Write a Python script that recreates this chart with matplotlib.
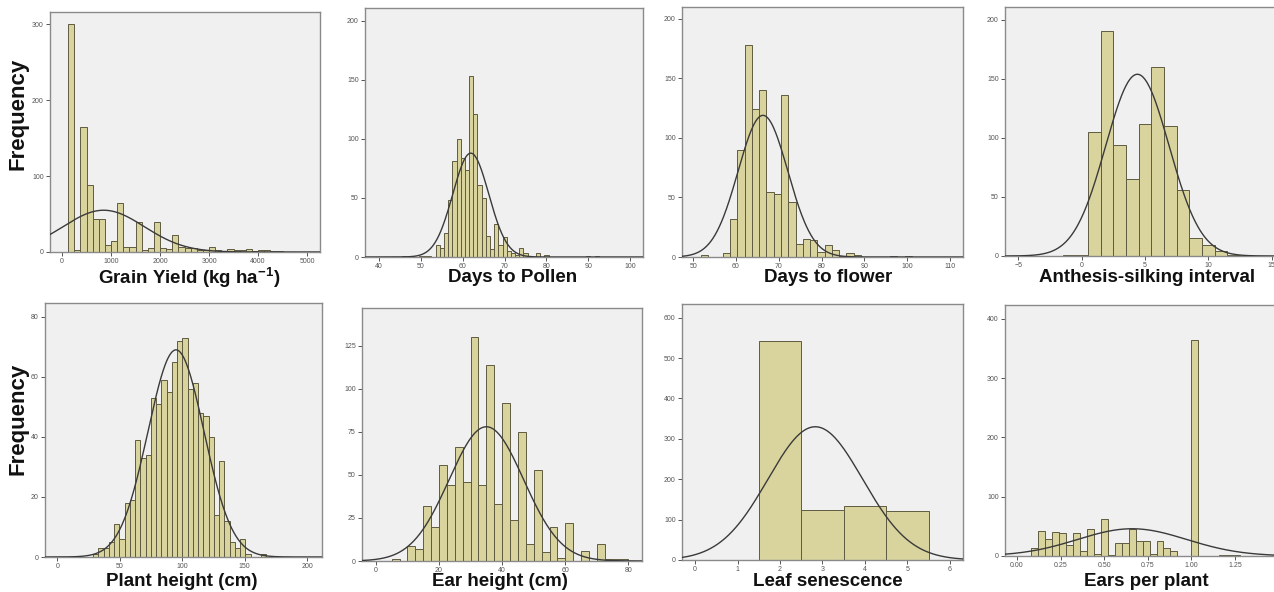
import matplotlib
matplotlib.use("Agg")
import matplotlib.pyplot as plt
import numpy as np

plt.rcParams["font.family"] = ["Liberation Sans", "DejaVu Sans"]
plt.rcParams["mathtext.fontset"] = "custom"
plt.rcParams["mathtext.rm"] = "Liberation Sans"
plt.rcParams["mathtext.bf"] = "Liberation Sans:bold"

# ---- data: histogram counts (bin start, bin width, counts) + fitted normal curve
GY_START, GY_WIDTH = 125, 125
GY_COUNTS = [300, 2, 165, 88, 44, 43, 9, 15, 65, 7, 6, 39, 3, 5, 39, 5, 4, 23,
             6, 5, 5, 3, 2, 6, 2, 1, 4, 2, 2, 4, 1, 3, 2, 1, 1]
GY_CURVE = (850, 830, 55)          # mean, sd, peak height

DP_START, DP_WIDTH = 45.5, 1
DP_COUNTS = [1, 0, 0, 0, 1, 1, 1, 0, 10, 8, 20, 48, 81, 100, 84, 74, 153, 121,
             61, 50, 18, 7, 28, 10, 17, 5, 3, 2, 8, 3, 1, 0, 3, 0, 2,
             0, 0, 0, 0, 0, 0, 0, 0, 0, 1, 0, 1]
DP_CURVE = (61.9, 4.3, 88)

DF_START, DF_WIDTH = 51.8, 1.7
DF_COUNTS = [2, 0, 0, 3, 32, 90, 178, 124, 140, 55, 53, 136, 46, 11, 15, 14, 4,
             10, 6, 1, 3, 2, 0, 0, 0, 0, 1, 0, 1]
DF_CURVE = (66.3, 5.8, 119)

ASI_START, ASI_WIDTH = -1.5, 1
ASI_COUNTS = [1, 1, 105, 191, 94, 65, 112, 160, 110, 56, 15, 9, 4, 1]
ASI_CURVE = (4.4, 2.5, 154)

PH_START, PH_WIDTH = 28.6, 4.2
PH_COUNTS = [1, 3, 3, 5, 11, 6, 18, 19, 39, 33, 34, 53, 51, 59, 55, 65, 72, 73,
             56, 58, 48, 47, 40, 14, 32, 12, 5, 3, 6, 1, 0, 0, 1]
PH_CURVE = (95, 22.4, 69)

EH_START, EH_WIDTH = 5, 2.5
EH_COUNTS = [1, 0, 9, 7, 32, 20, 56, 44, 66, 46, 130, 44, 114, 33, 92, 24, 75,
             10, 53, 5, 20, 2, 22, 0, 6, 0, 10, 1, 1, 1]
EH_CURVE = (35, 11.8, 78)

LS_START, LS_WIDTH = 0.5, 1
LS_COUNTS = [1, 543, 125, 133, 121]
LS_CURVE = (2.83, 1.116, 330)

EP_START, EP_WIDTH = 0.08, 0.04
EP_COUNTS = [13, 42, 29, 40, 39, 18, 39, 8, 45, 4, 63, 2, 22, 22, 46, 26, 25,
             4, 26, 13, 9, 0, 0, 365, 0, 0, 0, 1, 1, 1]
EP_CURVE = (0.66, 0.313, 46)

XLABELS = [r"Grain Yield (kg ha$^{\mathbf{-1}}$)", "Days to Pollen", "Days to flower",
           "Anthesis-silking interval", "Plant height (cm)", "Ear height (cm)",
           "Leaf senescence", "Ears per plant"]

FACE = "#F0F0F0"
BAR = "#D9D49E"
EDGE = "#5E5B40"
CURVE = "#3A3A3A"
FRAME = "#8A8A8A"

W, H = 1274, 592
fig = plt.figure(figsize=(W / 100, H / 100), dpi=100)


def add_ax(l, r, t, b):
    return fig.add_axes([l / W, 1 - b / H, (r - l) / W, (b - t) / H])


panels = [
    # pixel box (l, r, t, b), xlim, ylim, xticks, yticks, data
    ((50, 320, 12, 252), (-245, 5265), (0, 316), np.arange(0, 5001, 1000), np.arange(0, 301, 100),
     GY_START, GY_WIDTH, GY_COUNTS, GY_CURVE),
    ((365, 643, 8, 257), (36.6, 103.1), (0, 211), np.arange(40, 101, 10), np.arange(0, 201, 50),
     DP_START, DP_WIDTH, DP_COUNTS, DP_CURVE),
    ((682, 963, 7, 257), (47.4, 113), (0, 210), np.arange(50, 111, 10), np.arange(0, 201, 50),
     DF_START, DF_WIDTH, DF_COUNTS, DF_CURVE),
    ((1005, 1285, 7, 256), (-6.05, 16.05), (0, 211), np.arange(-5, 16, 5), np.arange(0, 201, 50),
     ASI_START, ASI_WIDTH, ASI_COUNTS, ASI_CURVE),
    ((45, 322, 303, 557), (-9.8, 211.8), (0, 84.6), np.arange(0, 201, 50), np.arange(0, 81, 20),
     PH_START, PH_WIDTH, PH_COUNTS, PH_CURVE),
    ((362, 642, 308, 561), (-4.4, 84.3), (0, 147), np.arange(0, 81, 20), np.arange(0, 126, 25),
     EH_START, EH_WIDTH, EH_COUNTS, EH_CURVE),
    ((682, 963, 304, 560), (-0.31, 6.31), (0, 634), np.arange(0, 7, 1), np.arange(0, 601, 100),
     LS_START, LS_WIDTH, LS_COUNTS, LS_CURVE),
    ((1005, 1285, 305, 556), (-0.069, 1.537), (0, 423.6), np.arange(0, 1.26, 0.25), np.arange(0, 401, 100),
     EP_START, EP_WIDTH, EP_COUNTS, EP_CURVE),
]

label_pos = [(189, 278), (513, 278), (828, 278), (1147, 278),
             (182, 582), (500, 582), (828, 582), (1146, 582)]

for i, (box, xl, yl, xt, yt, start, width, counts, curve) in enumerate(panels):
    ax = add_ax(*box)
    ax.set_facecolor(FACE)
    edges = start + width * np.arange(len(counts))
    ax.bar(edges, counts, width=width, align="edge", color=BAR,
           edgecolor=EDGE, linewidth=0.7, zorder=2)
    mu, sd, peak = curve
    xs = np.linspace(xl[0], xl[1], 400)
    ax.plot(xs, peak * np.exp(-0.5 * ((xs - mu) / sd) ** 2), color=CURVE, lw=1.0, zorder=3)
    ax.set_xlim(*xl)
    ax.set_ylim(*yl)
    ax.set_xticks(xt)
    ax.set_yticks(yt)
    if i == 7:
        ax.set_xticklabels([f"{v:.2f}" for v in xt])
    ax.tick_params(labelsize=5, colors="#555555", length=3, width=0.7, pad=1.5)
    for s in ax.spines.values():
        s.set_color(FRAME)
        s.set_linewidth(1.0)
    fig.text(label_pos[i][0] / W, 1 - label_pos[i][1] / H, XLABELS[i],
             ha="center", va="center", fontsize=13.5, fontweight="bold", color="#111111")

for yc in (114, 419):
    fig.text(18.5 / W, 1 - yc / H, "Frequency", rotation=90, ha="center", va="center",
             fontsize=16, fontweight="bold", color="#111111")

fig.savefig("out.png", dpi=100, facecolor="white")
